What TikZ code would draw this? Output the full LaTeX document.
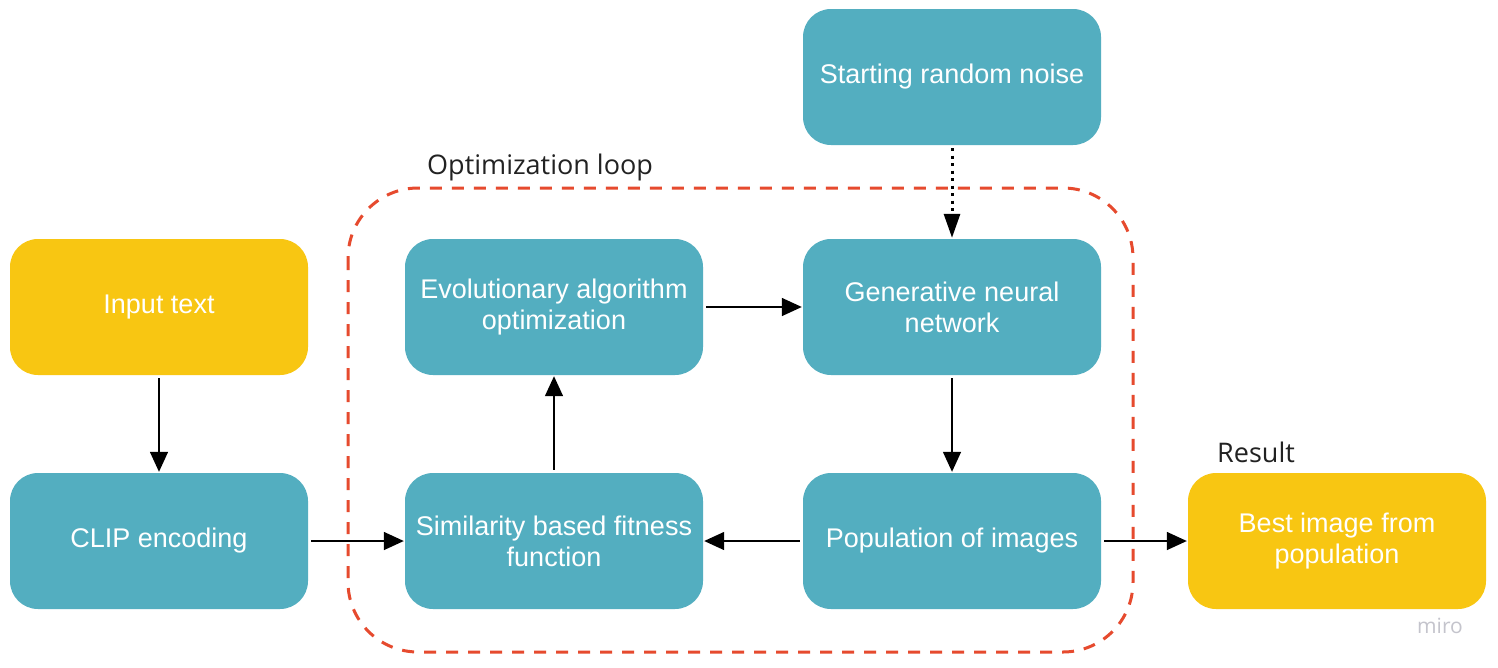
\documentclass[tikz,border=0pt]{standalone}
\usepackage{fontspec}
\setmainfont{Liberation Sans}
\newfontfamily\labelfont{Open Sans}
\usetikzlibrary{arrows.meta}
\definecolor{teal}{HTML}{53AEC0}
\definecolor{gold}{HTML}{F8C612}
\definecolor{loopred}{HTML}{E64A2E}
\definecolor{labelgray}{HTML}{222222}
\definecolor{mirogray}{HTML}{C4C4CC}
\begin{document}
\begin{tikzpicture}[x=1pt,y=-1pt,
  box/.style={rounded corners=28pt, minimum width=298pt, minimum height=136pt, inner sep=0pt,
    text=white, align=center, font=\fontsize{27}{31}\selectfont},
  bluebox/.style={box, fill=teal},
  yellowbox/.style={box, fill=gold},
  conn/.style={line width=1.5pt, -{Triangle[length=20pt,width=18pt]}, shorten <=3pt, shorten >=1pt},
  lbl/.style={font=\labelfont\fontsize{27}{31}\selectfont, text=labelgray, inner sep=0pt}
]
\useasboundingbox (0,0) rectangle (1498,667);
\fill[white] (0,0) rectangle (1498,667);
% loop
\draw[loopred, line width=3pt, dash pattern=on 12pt off 10pt, rounded corners=70pt]
  (348,188) rectangle (1133,652);
\node[lbl, anchor=base west] (loopl) at (427,174) {Optimization loop};
\node[lbl, anchor=base west] (resl) at (1217,462) {Result};
% boxes
\node[bluebox] (noise) at (952,77) {Starting random noise};
\node[yellowbox] (input) at (159,307) {Input text};
\node[bluebox] (evo) at (554,307) {Evolutionary algorithm\\optimization};
\node[bluebox] (gen) at (952,307) {Generative neural\\network};
\node[bluebox] (clip) at (159,541) {CLIP encoding};
\node[bluebox] (sim) at (554,541) {Similarity based fitness\\function};
\node[bluebox] (pop) at (952,541) {Population of images};
\node[yellowbox] (best) at (1337,541) {Best image from\\population};
\node[font=\labelfont\fontsize{21}{24}\selectfont, text=mirogray, anchor=base] (miro) at (1440,633) {miro};
% connectors
\draw[conn] (input) -- (clip);
\draw[conn] (clip) -- (sim);
\draw[conn] (sim) -- (evo);
\draw[conn] (evo) -- (gen);
\draw[conn] (gen) -- (pop);
\draw[conn] (pop) -- (sim);
\draw[conn] (pop) -- (best);
\draw[line width=3pt, dash pattern=on 3pt off 4.5pt, shorten <=3pt, shorten >=1pt, -{Triangle[length=24pt,width=16pt]}] (noise) -- (gen);
\end{tikzpicture}
\end{document}
